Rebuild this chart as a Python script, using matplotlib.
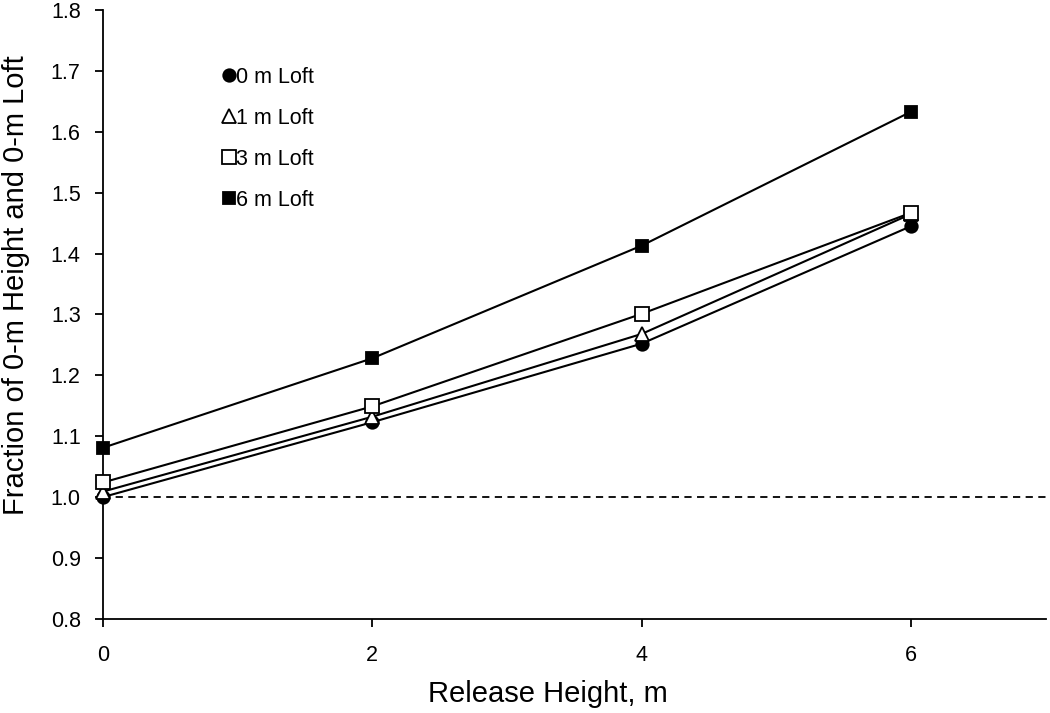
import numpy as np
import matplotlib.pyplot as plt
from matplotlib.lines import Line2D

plt.rcParams['font.family'] = ['Liberation Sans', 'DejaVu Sans']

heights = [0, 2, 4, 6]
loft0 = [1.000, 1.123, 1.252, 1.445]
loft1 = [1.009, 1.132, 1.268, 1.465]
loft3 = [1.024, 1.149, 1.301, 1.467]
loft6 = [1.081, 1.228, 1.413, 1.633]
labels = ['0 m Loft', '1 m Loft', '3 m Loft', '6 m Loft']

fig = plt.figure(figsize=(10.5, 7.13), dpi=100)
ax = fig.add_axes([0.098, 0.132, 0.898, 0.854])

ax.axhline(1.0, color='black', lw=1.3, ls=(0, (4, 3)), zorder=1)

styles = [
    dict(marker='o', mfc='black', ms=9),
    dict(marker='^', mfc='white', ms=10),
    dict(marker='s', mfc='white', ms=10),
    dict(marker='s', mfc='black', ms=9),
]
series = [loft0, loft1, loft3, loft6]
handles = []
for ys, st, lab in zip(series, styles, labels):
    ax.plot(heights, ys, color='black', lw=1.5, mec='black', mew=1.3, clip_on=False, zorder=3, **st)
    handles.append(Line2D([], [], ls='none', mec='black', mew=1.3, **st))

ax.legend(handles, labels, loc='upper left', bbox_to_anchor=(0.118, 0.921), frameon=False,
          fontsize=15.5, handlelength=0.55, handletextpad=0.08, labelspacing=0.93, borderaxespad=0)

ax.set_xlim(0, 7)
ax.set_ylim(0.8, 1.8)
ax.set_xticks([0, 2, 4, 6])
ax.set_yticks(np.arange(0.8, 1.81, 0.1))
ax.yaxis.set_major_formatter(plt.FormatStrFormatter('%.1f'))
ax.tick_params(direction='out', length=6, width=1.3, labelsize=15.5)
ax.tick_params(axis='x', pad=12.5)
ax.tick_params(axis='y', pad=10)
for s in ['top', 'right']:
    ax.spines[s].set_visible(False)
for s in ['left', 'bottom']:
    ax.spines[s].set_linewidth(1.3)

ax.set_xlabel('Release Height, m', fontsize=21)
ax.set_ylabel('Fraction of 0-m Height and 0-m Loft', fontsize=21)
ax.xaxis.set_label_coords(0.472, -0.100)
ax.yaxis.set_label_coords(-0.0775, 0.548)

fig.savefig('out.png', dpi=100)
